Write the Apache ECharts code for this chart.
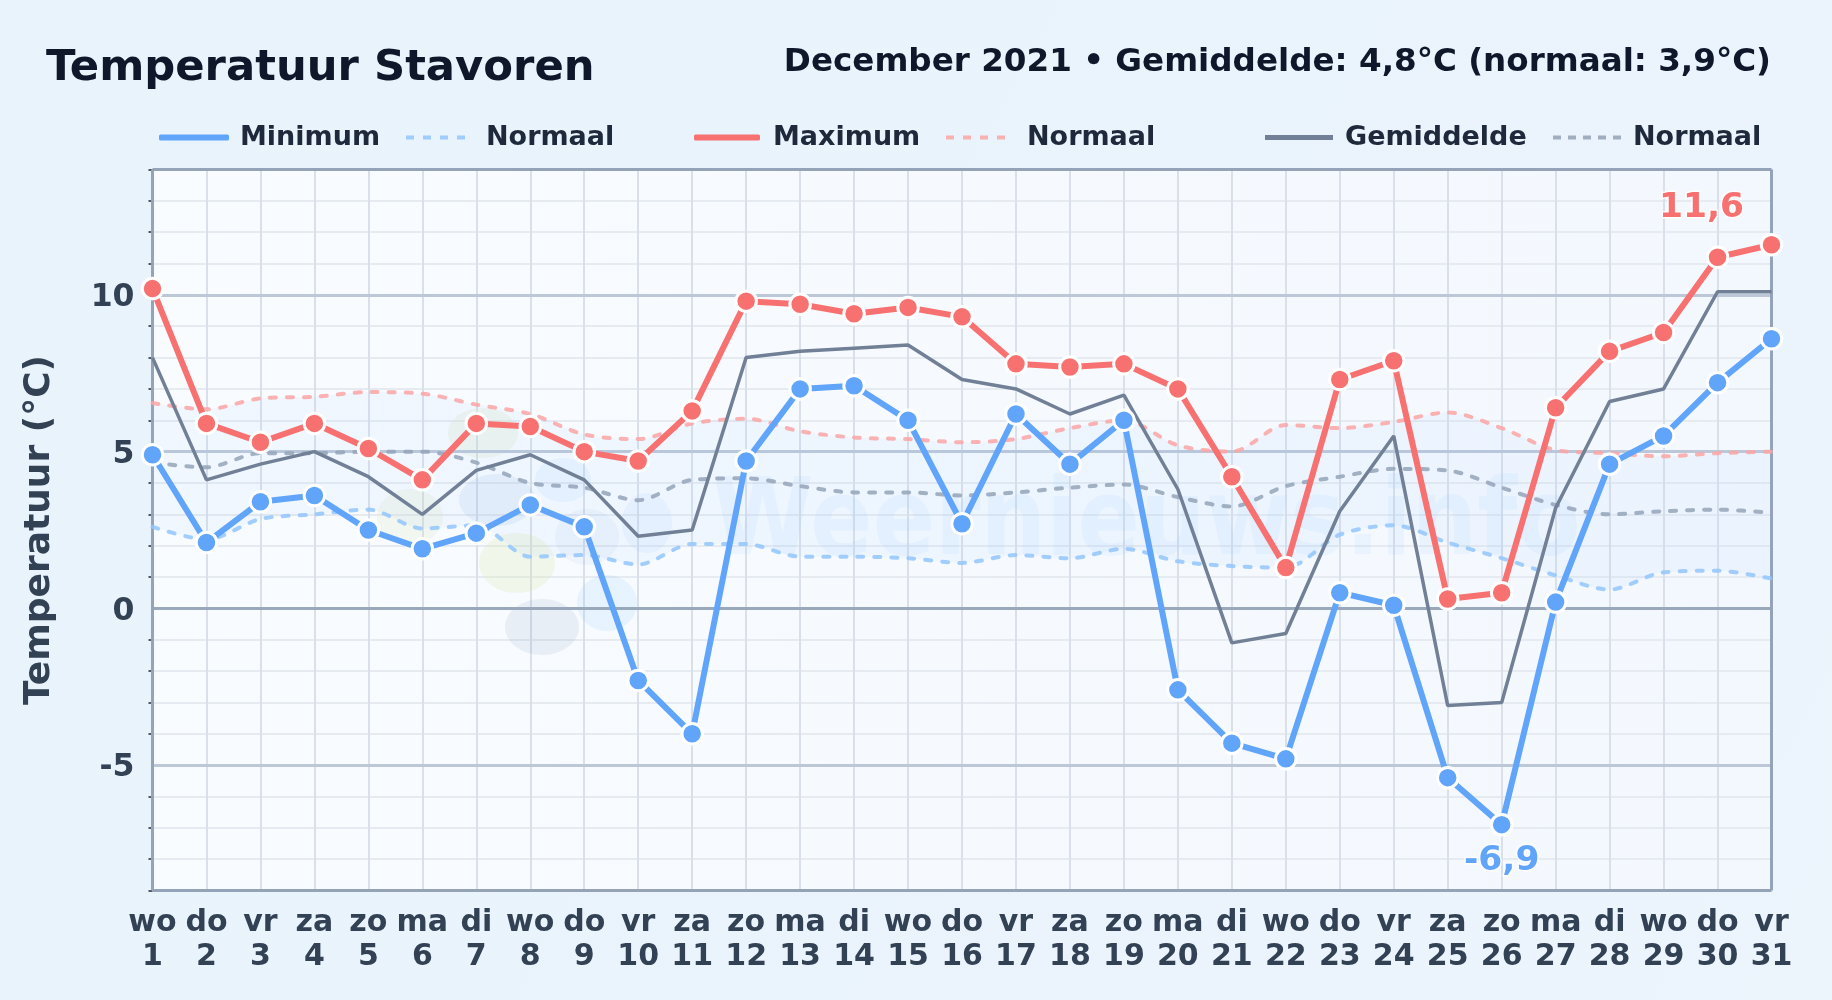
<!DOCTYPE html>
<html><head><meta charset="utf-8"><style>html,body{margin:0;padding:0;background:#e9f3fc}#c{width:1832px;height:1000px}</style>
<script src="https://cdn.jsdelivr.net/npm/echarts@6/dist/echarts.min.js"></script></head><body><div id="c"></div>
<script>
const weekdays=['wo','do','vr','za','zo','ma','di','wo','do','vr','za','zo','ma','di','wo','do','vr','za','zo','ma','di','wo','do','vr','za','zo','ma','di','wo','do','vr'];
const days=[1,2,3,4,5,6,7,8,9,10,11,12,13,14,15,16,17,18,19,20,21,22,23,24,25,26,27,28,29,30,31];
const minimum=[4.9,2.1,3.4,3.6,2.5,1.9,2.4,3.3,2.6,-2.3,-4.0,4.7,7.0,7.1,6.0,2.7,6.2,4.6,6.0,-2.6,-4.3,-4.8,0.5,0.1,-5.4,-6.9,0.2,4.6,5.5,7.2,8.6];
const maximum=[10.2,5.9,5.3,5.9,5.1,4.1,5.9,5.8,5.0,4.7,6.3,9.8,9.7,9.4,9.6,9.3,7.8,7.7,7.8,7.0,4.2,1.3,7.3,7.9,0.3,0.5,6.4,8.2,8.8,11.2,11.6];
const gemiddelde=[8.0,4.1,4.6,5.0,4.2,3.0,4.4,4.9,4.1,2.3,2.5,8.0,8.2,8.3,8.4,7.3,7.0,6.2,6.8,3.8,-1.1,-0.8,3.1,5.5,-3.1,-3.0,3.2,6.6,7.0,10.1,10.1];
const normaalMin=[2.6,2.2,2.85,3.0,3.15,2.55,2.65,1.65,1.7,1.4,2.05,2.05,1.65,1.65,1.6,1.45,1.7,1.6,1.9,1.5,1.35,1.3,2.35,2.65,2.1,1.6,1.05,0.6,1.15,1.2,0.95];
const normaalMax=[6.55,6.35,6.7,6.75,6.9,6.85,6.5,6.2,5.55,5.4,5.9,6.05,5.65,5.45,5.4,5.3,5.4,5.75,6.0,5.2,5.0,5.85,5.75,5.95,6.25,5.75,5.05,4.95,4.85,4.95,5.0];
const normaalGem=[4.65,4.5,4.95,4.95,5.0,5.0,4.65,4.0,3.85,3.45,4.1,4.15,3.9,3.7,3.7,3.6,3.7,3.85,3.95,3.55,3.25,3.9,4.2,4.45,4.4,3.85,3.3,3.0,3.1,3.15,3.05];
const yLabels=[-5,0,5,10];
const yMinorTicks=[-9,-8,-7,-6,-4,-3,-2,-1,1,2,3,4,6,7,8,9,11,12,13,14];
const dec=v=>String(v).replace('.',',');
const categories=weekdays.map((d,i)=>d+'\n'+days[i]);
const DASH4='path://M0 0h8v4H0zM17 0h8v4H17zM34 0h8v4H34zM51 0h8v4H51z';
const DASH5='path://M0 0h8v4H0zM15 0h8v4H15zM30 0h8v4H30zM45 0h8v4H45zM60 0h8v4H60z';
const FONT='DejaVu Sans';
const legendText={fontFamily:FONT,fontWeight:'bold',fontSize:27,color:'#1e293b'};
function leg(name,left,w,h,icon,color,op,gap){
 return {show:true,left,top:124,orient:'horizontal',itemWidth:w,itemHeight:h,itemGap:0,padding:0,
  textStyle:{...legendText,padding:[0,0,0,gap-5]},selectedMode:false,formatter:()=>name.split(' ')[0],
  data:[{name,icon,itemStyle:{color,opacity:op,borderWidth:0}}]};
}
function lineS(name,data,color,width,extra){return {name,type:'line',data,symbol:'none',smooth:false,z:4,
 lineStyle:{color,width},itemStyle:{color},silent:true,animation:false,...extra};}
function dashS(name,data,color,opacity){return {name,type:'line',data,symbol:'none',smooth:0.3,z:3,
 lineStyle:{color,width:4,type:[6,11],opacity,cap:'round'},itemStyle:{color},silent:true,animation:false};}
const hiLab=(arr,idx,offset,color)=>arr.map((v,i)=>i===idx?{value:v,label:{show:true,position:'inside',offset,formatter:dec(v),
 fontFamily:FONT,fontWeight:'bold',fontSize:34.5,color,textBorderColor:'rgba(255,255,255,.85)',textBorderWidth:3}}:v);
const sym={symbol:'circle',symbolSize:20.5,z:6,clip:false};
const frame={color:'#94a3b8',width:3,type:'solid'};
const major={color:'#bcc8d8',width:3,type:'solid'};
const blob=(cx,cy,rx,ry,fill)=>({type:'ellipse',z:1,shape:{cx,cy,rx,ry},style:{fill}});
const option={
 backgroundColor:{type:'linear',x:0,y:0,x2:1,y2:1,colorStops:[{offset:0,color:'#e8f3fc'},{offset:1,color:'#ecf4fc'}]},
 animation:false,
 title:[
  {text:'Temperatuur Stavoren',left:46,top:47,padding:0,textStyle:{fontFamily:FONT,fontWeight:'bold',fontSize:43.3,color:'#0f172a'}},
  {text:'December 2021 • Gemiddelde: 4,8°C (normaal: 3,9°C)',right:61,top:46,padding:0,textStyle:{fontFamily:FONT,fontWeight:'bold',fontSize:32.6,color:'#0f172a'}}
 ],
 legend:[
  leg('Minimum',159,70,6,'roundRect','#60a5fa',1,11),
  leg('Normaal min',406,59,5,DASH4,'#93c5fd',.85,21),
  leg('Maximum',694,66,6,'roundRect','#f87171',1,13),
  leg('Normaal max',946,59,5,DASH4,'#fca5a5',.85,22),
  leg('Gemiddelde',1265,68,5,'rect','#718096',1,12),
  leg('Normaal gem',1553,68,5,DASH5,'#a0aec0',1,12)
 ],
 grid:{left:152.5,right:60.5,top:169.5,bottom:109.5,show:true,backgroundColor:{type:'linear',x:0,y:0,x2:1,y2:0,colorStops:[{offset:0,color:'#f9fcff'},{offset:.5,color:'#f6faff'},{offset:1,color:'#f3f8fe'}]},borderWidth:0},
 graphic:[
  {type:'text',z:1,x:712,y:473,scaleX:.86,style:{text:'Weernieuws.info',fontFamily:FONT,fontSize:107,fontWeight:'bold',fill:'rgba(96,165,250,.07)'}},
  blob(542,627,37,28,'rgba(100,130,170,.10)'),
  blob(607,603,30,28,'rgba(125,200,250,.14)'),
  blob(517,563,38,30,'rgba(215,230,150,.20)'),
  blob(483,433,35,25,'rgba(210,230,170,.20)'),
  blob(410,517,33,28,'rgba(215,230,170,.18)'),
  blob(497,500,38,26,'rgba(90,130,200,.09)'),
  blob(563,480,28,22,'rgba(100,170,250,.08)'),
  blob(587,537,32,28,'rgba(90,130,200,.06)'),
  blob(647,523,25,30,'rgba(100,170,250,.07)')
 ],
 xAxis:{type:'category',data:categories,boundaryGap:false,
  axisLine:{show:false},axisTick:{show:false},
  axisLabel:{interval:0,margin:15,fontFamily:FONT,fontWeight:'bold',fontSize:30,lineHeight:34.5,color:'#334155',align:'center'},
  splitLine:{show:true,interval:0,lineStyle:{color:'#d9e0ea',width:2}}},
 yAxis:{type:'value',min:-9,max:14,interval:1,
  name:'Temperatuur (°C)',nameLocation:'middle',nameGap:94.5,nameRotate:90,
  nameTextStyle:{fontFamily:FONT,fontWeight:'bold',fontSize:36,color:'#334155'},
  axisLine:{show:false},
  axisTick:{show:true,length:4,customValues:yMinorTicks,lineStyle:{color:'#1e293b',width:1.5}},
  axisLabel:{customValues:yLabels,margin:18,verticalAlign:'top',lineHeight:32,padding:[-13,0,0,0],fontFamily:FONT,fontWeight:'bold',fontSize:31.5,color:'#334155',formatter:v=>String(v)},
  splitLine:{show:true,lineStyle:{color:'#e6ebf2',width:2}}},
 series:[
  {name:'raster',type:'line',data:[],silent:true,z:2,markLine:{silent:true,symbol:'none',animation:false,label:{show:false},z:2,
   data:[{yAxis:-5,lineStyle:major},{yAxis:0,lineStyle:{...major,color:'#9aa8bb'}},{yAxis:5,lineStyle:major},{yAxis:10,lineStyle:major},
    {yAxis:-9,lineStyle:frame},{yAxis:14,lineStyle:frame},{xAxis:0,lineStyle:frame},{xAxis:30,lineStyle:frame}]}},
  {name:'bandBasis',type:'line',data:normaalMin,stack:'band',symbol:'none',lineStyle:{opacity:0},smooth:0.3,silent:true,z:2},
  {name:'band',type:'line',data:normaalMax.map((v,i)=>v-normaalMin[i]),stack:'band',symbol:'none',lineStyle:{opacity:0},areaStyle:{color:'rgba(147,197,253,.12)'},smooth:0.3,silent:true,z:2},
  dashS('Normaal min',normaalMin,'#93c5fd',.85),
  dashS('Normaal max',normaalMax,'#fca5a5',.85),
  dashS('Normaal gem',normaalGem,'#94a3b8',.85),
  lineS('Gemiddelde',gemiddelde,'#718096',3.5),
  lineS('Minimum',hiLab(minimum,25,[0,36],'#60a5fa'),'#60a5fa',6,{...sym,itemStyle:{color:'#60a5fa',borderColor:'#fff',borderWidth:3}}),
  lineS('Maximum',hiLab(maximum,30,[-70,-37],'#f87171'),'#f87171',6,{...sym,itemStyle:{color:'#f87171',borderColor:'#fff',borderWidth:3}})
 ]
};
echarts.init(document.getElementById('c'),null,{renderer:'canvas'}).setOption(option);
</script></body></html>
